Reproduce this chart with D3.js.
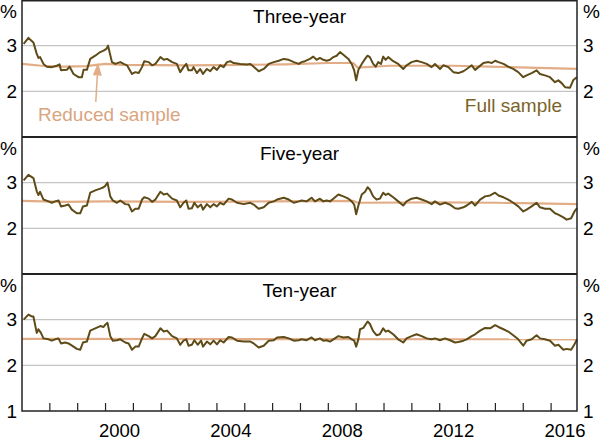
<!DOCTYPE html>
<html>
<head>
<meta charset="utf-8">
<script src="https://cdn.jsdelivr.net/npm/d3@7"></script>
<style>
  body { margin: 0; background: #fff; }
  text { font-family: Arial, "Liberation Sans", sans-serif; }
</style>
</head>
<body>
<script>
// panel titles
var titles = ["Three-year", "Five-year", "Ten-year"];

// [decimal year, per cent]
var threeFull = [[1997.06,3.04],[1997.23,3.17],[1997.41,3.07],[1997.53,2.82],[1997.59,2.73],[1997.65,2.75],[1997.77,2.60],[1997.89,2.54],[1998.07,2.53],[1998.25,2.56],[1998.35,2.59],[1998.40,2.46],[1998.61,2.47],[1998.71,2.54],[1998.85,2.38],[1999.03,2.31],[1999.15,2.31],[1999.21,2.47],[1999.33,2.47],[1999.45,2.71],[1999.63,2.78],[1999.81,2.86],[1999.93,2.89],[2000.03,2.93],[2000.09,3.00],[2000.23,2.64],[2000.35,2.60],[2000.53,2.64],[2000.65,2.60],[2000.77,2.57],[2000.95,2.38],[2001.07,2.42],[2001.19,2.40],[2001.31,2.53],[2001.39,2.66],[2001.55,2.64],[2001.67,2.57],[2001.79,2.60],[2001.97,2.75],[2002.09,2.69],[2002.21,2.71],[2002.39,2.64],[2002.56,2.60],[2002.68,2.42],[2002.80,2.53],[2002.90,2.60],[2002.98,2.46],[2003.10,2.46],[2003.16,2.53],[2003.28,2.40],[2003.40,2.49],[2003.50,2.38],[2003.64,2.49],[2003.76,2.44],[2003.88,2.53],[2004.00,2.47],[2004.12,2.57],[2004.24,2.53],[2004.36,2.64],[2004.48,2.66],[2004.60,2.62],[2004.84,2.60],[2005.08,2.59],[2005.20,2.60],[2005.32,2.54],[2005.50,2.44],[2005.68,2.49],[2005.86,2.60],[2006.04,2.64],[2006.22,2.67],[2006.40,2.71],[2006.58,2.69],[2006.76,2.64],[2006.94,2.60],
  [2007.04,2.64],[2007.16,2.66],[2007.34,2.71],[2007.46,2.76],[2007.58,2.69],[2007.70,2.73],[2007.82,2.69],[2007.94,2.67],[2008.06,2.69],[2008.18,2.75],[2008.30,2.78],[2008.42,2.86],[2008.54,2.80],[2008.72,2.71],[2008.84,2.60],[2008.93,2.46],[2009.00,2.24],[2009.08,2.47],[2009.20,2.60],[2009.32,2.71],[2009.41,2.78],[2009.49,2.75],[2009.61,2.60],[2009.70,2.54],[2009.79,2.64],[2009.89,2.60],[2009.97,2.76],[2010.06,2.69],[2010.15,2.75],[2010.33,2.66],[2010.51,2.60],[2010.69,2.49],[2010.81,2.57],[2010.99,2.64],[2011.17,2.67],[2011.35,2.64],[2011.53,2.60],[2011.71,2.53],[2011.83,2.60],[2012.01,2.49],[2012.13,2.57],[2012.31,2.53],[2012.49,2.42],[2012.67,2.40],[2012.85,2.44],[2012.97,2.49],[2013.15,2.57],[2013.27,2.47],[2013.39,2.53],[2013.57,2.62],[2013.75,2.64],[2013.87,2.62],[2013.99,2.67],[2014.11,2.64],[2014.29,2.60],[2014.46,2.54],[2014.64,2.49],[2014.82,2.42],[2015.00,2.31],[2015.12,2.35],[2015.30,2.40],[2015.48,2.46],[2015.60,2.38],[2015.78,2.35],[2015.96,2.31],[2016.14,2.20],[2016.26,2.24],[2016.38,2.18],[2016.50,2.09],[2016.68,2.08],[2016.80,2.25],[2016.92,2.31]];

var fiveFull = [[1997.06,3.05],[1997.23,3.17],[1997.41,3.10],[1997.53,2.81],[1997.59,2.73],[1997.65,2.80],[1997.77,2.63],[1997.95,2.59],[1998.07,2.56],[1998.19,2.59],[1998.31,2.61],[1998.40,2.48],[1998.55,2.50],[1998.67,2.52],[1998.79,2.41],[1998.97,2.33],[1999.09,2.33],[1999.19,2.48],[1999.33,2.50],[1999.45,2.78],[1999.63,2.83],[1999.81,2.87],[1999.93,2.90],[1999.99,2.93],[2000.07,3.00],[2000.17,2.70],[2000.26,2.61],[2000.41,2.56],[2000.53,2.61],[2000.71,2.53],[2000.83,2.52],[2000.95,2.37],[2001.07,2.43],[2001.19,2.43],[2001.31,2.63],[2001.39,2.68],[2001.55,2.65],[2001.67,2.58],[2001.79,2.63],[2001.97,2.80],[2002.09,2.74],[2002.21,2.76],[2002.39,2.65],[2002.56,2.61],[2002.68,2.46],[2002.80,2.56],[2002.90,2.61],[2002.98,2.43],[2003.10,2.44],[2003.19,2.56],[2003.31,2.46],[2003.43,2.52],[2003.50,2.41],[2003.64,2.53],[2003.76,2.46],[2003.88,2.53],[2004.00,2.48],[2004.12,2.56],[2004.24,2.52],[2004.42,2.65],[2004.54,2.63],[2004.72,2.56],[2004.96,2.53],[2005.20,2.56],[2005.32,2.52],[2005.50,2.43],[2005.68,2.46],[2005.86,2.56],[2006.04,2.59],[2006.16,2.63],[2006.40,2.67],[2006.58,2.63],[2006.76,2.56],[2006.94,2.59],
  [2007.04,2.61],[2007.22,2.59],[2007.40,2.67],[2007.52,2.59],[2007.70,2.65],[2007.82,2.59],[2007.94,2.61],[2008.06,2.59],[2008.18,2.65],[2008.36,2.74],[2008.54,2.70],[2008.72,2.65],[2008.84,2.59],[2008.93,2.52],[2009.00,2.31],[2009.08,2.50],[2009.20,2.74],[2009.32,2.80],[2009.41,2.90],[2009.49,2.85],[2009.61,2.70],[2009.73,2.63],[2009.85,2.65],[2009.97,2.78],[2010.06,2.73],[2010.15,2.76],[2010.33,2.68],[2010.51,2.59],[2010.69,2.50],[2010.81,2.59],[2010.99,2.65],[2011.17,2.67],[2011.35,2.63],[2011.53,2.59],[2011.71,2.53],[2011.83,2.59],[2012.01,2.52],[2012.19,2.56],[2012.37,2.52],[2012.55,2.44],[2012.67,2.43],[2012.85,2.46],[2012.97,2.50],[2013.15,2.58],[2013.27,2.50],[2013.45,2.63],[2013.63,2.70],[2013.81,2.72],[2013.99,2.78],[2014.11,2.72],[2014.29,2.68],[2014.46,2.63],[2014.64,2.56],[2014.82,2.48],[2015.00,2.37],[2015.12,2.41],[2015.30,2.48],[2015.48,2.56],[2015.60,2.46],[2015.78,2.43],[2015.96,2.43],[2016.14,2.33],[2016.26,2.30],[2016.44,2.24],[2016.56,2.19],[2016.72,2.22],[2016.84,2.37],[2016.93,2.44]];

var tenFull = [[1997.06,3.00],[1997.23,3.11],[1997.35,3.07],[1997.41,3.07],[1997.53,2.71],[1997.59,2.79],[1997.68,2.71],[1997.77,2.59],[1997.95,2.57],[1998.07,2.54],[1998.19,2.57],[1998.31,2.59],[1998.40,2.48],[1998.55,2.50],[1998.67,2.48],[1998.85,2.41],[1998.97,2.36],[1999.09,2.34],[1999.19,2.50],[1999.33,2.52],[1999.45,2.76],[1999.63,2.81],[1999.81,2.86],[1999.93,2.84],[1999.99,2.89],[2000.07,2.93],[2000.17,2.64],[2000.26,2.54],[2000.41,2.55],[2000.53,2.57],[2000.71,2.50],[2000.83,2.48],[2000.95,2.34],[2001.07,2.41],[2001.19,2.41],[2001.31,2.59],[2001.39,2.69],[2001.55,2.64],[2001.67,2.59],[2001.79,2.64],[2001.97,2.81],[2002.09,2.74],[2002.21,2.76],[2002.39,2.64],[2002.56,2.59],[2002.68,2.45],[2002.80,2.54],[2002.90,2.57],[2002.98,2.43],[2003.10,2.45],[2003.19,2.55],[2003.31,2.45],[2003.43,2.54],[2003.50,2.41],[2003.64,2.52],[2003.76,2.46],[2003.88,2.54],[2004.00,2.46],[2004.12,2.55],[2004.24,2.50],[2004.42,2.62],[2004.54,2.61],[2004.72,2.54],[2004.96,2.52],[2005.20,2.52],[2005.32,2.48],[2005.50,2.39],[2005.68,2.43],[2005.86,2.54],[2006.04,2.55],[2006.16,2.61],[2006.40,2.62],[2006.58,2.59],[2006.76,2.54],[2006.94,2.55],
  [2007.04,2.57],[2007.22,2.55],[2007.40,2.61],[2007.52,2.55],[2007.70,2.59],[2007.82,2.54],[2007.94,2.55],[2008.06,2.52],[2008.18,2.57],[2008.36,2.64],[2008.54,2.61],[2008.72,2.62],[2008.84,2.57],[2008.93,2.54],[2009.00,2.41],[2009.08,2.57],[2009.14,2.79],[2009.26,2.82],[2009.41,2.96],[2009.49,2.91],[2009.61,2.75],[2009.73,2.66],[2009.85,2.68],[2009.97,2.81],[2010.06,2.74],[2010.15,2.76],[2010.33,2.68],[2010.51,2.57],[2010.69,2.50],[2010.81,2.59],[2010.99,2.64],[2011.17,2.68],[2011.35,2.64],[2011.53,2.59],[2011.71,2.57],[2011.83,2.59],[2012.01,2.55],[2012.19,2.59],[2012.37,2.55],[2012.55,2.50],[2012.67,2.51],[2012.85,2.54],[2012.97,2.57],[2013.15,2.64],[2013.27,2.68],[2013.45,2.76],[2013.63,2.82],[2013.81,2.81],[2013.99,2.88],[2014.11,2.84],[2014.29,2.79],[2014.46,2.74],[2014.64,2.66],[2014.82,2.57],[2015.00,2.43],[2015.12,2.54],[2015.30,2.57],[2015.48,2.66],[2015.60,2.59],[2015.78,2.57],[2015.96,2.54],[2016.14,2.43],[2016.26,2.45],[2016.44,2.34],[2016.56,2.36],[2016.72,2.34],[2016.84,2.46],[2016.93,2.57]];

var threeReduced = [[1997.0,2.60],[1997.7,2.56],[1998.5,2.54],[1999.3,2.55],[2000.0,2.60],[2000.6,2.58],[2003.0,2.57],[2005.0,2.58],[2006.5,2.59],[2008.0,2.62],[2008.9,2.62],[2009.05,2.52],[2010.2,2.56],[2012.5,2.56],[2014.5,2.53],[2016.93,2.49]];
var fiveReduced = [[1997.0,2.60],[1998.5,2.58],[2000.0,2.59],[2003.0,2.58],[2006.0,2.59],[2008.9,2.60],[2009.05,2.56],[2012.0,2.57],[2014.0,2.56],[2016.93,2.53]];
var tenReduced = [[1997.0,2.58],[2016.93,2.57]];

var yTicks = [2, 3];
var yearTicks = d3.range(1998, 2017);
var yearLabels = [2000, 2004, 2008, 2012, 2016];

var fullCol = "#5e4b18";
var fullText = "#7b6428";
var redCol = "#e2ad86";
var redText = "#d9a57f";

//Width and height
var w = 600;
var h = 440;
var left = 22, right = 577;
var panelH = 137;

var svg = d3.select("body").append("svg").attr("width", w).attr("height", h);

var x = d3.scaleLinear().domain([1997, 2016.93]).range([left, right]);

var panels = [
  {title: titles[0], full: threeFull, reduced: threeReduced},
  {title: titles[1], full: fiveFull, reduced: fiveReduced},
  {title: titles[2], full: tenFull, reduced: tenReduced}
];

var ys = [];
panels.forEach(function(p, i) {
  var top = i * panelH;
  var y = d3.scaleLinear().domain([1, 4]).range([top + panelH, top]);
  ys.push(y);
  var g = svg.append("g");

  // grid
  g.selectAll("line.grid").data(yTicks).enter().append("line")
    .attr("x1", left).attr("x2", right)
    .attr("y1", function(d) { return y(d); }).attr("y2", function(d) { return y(d); })
    .attr("stroke", "#c4c4c4").attr("stroke-width", 1.3);

  // tick labels both sides
  var labs = yTicks.slice();
  if (i == 2) labs.push(1);
  [[left - 5, "end"], [right + 6, "start"]].forEach(function(s) {
    g.selectAll(null).data(labs).enter().append("text")
      .attr("x", s[0]).attr("y", function(d) { return y(d); })
      .attr("dy", "0.35em").attr("text-anchor", s[1])
      .attr("font-size", 19).text(function(d) { return d; });
    g.append("text").attr("x", s[0]).attr("y", top + 11).attr("dy", "0.35em")
      .attr("text-anchor", s[1]).attr("font-size", 19).text("%");
  });

  g.append("text").attr("x", (left + right) / 2).attr("y", top + 16).attr("dy", "0.35em")
    .attr("text-anchor", "middle").attr("font-size", 19).attr("fill", "#000").text(p.title);

  var line = d3.line().x(function(d) { return x(d[0]); }).y(function(d) { return y(d[1]); });

  g.append("path").datum(p.reduced).attr("d", line)
    .attr("fill", "none").attr("stroke", redCol).attr("stroke-width", 2.2);
  g.append("path").datum(p.full).attr("d", line)
    .attr("fill", "none").attr("stroke", fullCol).attr("stroke-width", 2)
    .attr("stroke-linejoin", "round");
});

// frame and separators
svg.append("rect").attr("x", left).attr("y", 0.75).attr("width", right - left)
  .attr("height", 3 * panelH - 0.75).attr("fill", "none")
  .attr("stroke", "#222").attr("stroke-width", 1.5);
[1, 2].forEach(function(i) {
  svg.append("line").attr("x1", left).attr("x2", right)
    .attr("y1", i * panelH).attr("y2", i * panelH)
    .attr("stroke", "#222").attr("stroke-width", 1.8);
});

// x ticks
var bottom = 3 * panelH;
svg.selectAll("line.xt").data(yearTicks).enter().append("line")
  .attr("x1", function(d) { return x(d); }).attr("x2", function(d) { return x(d); })
  .attr("y1", bottom).attr("y2", bottom - 8)
  .attr("stroke", "#222").attr("stroke-width", 1.2);
svg.selectAll("text.xl").data(yearLabels).enter().append("text")
  .attr("x", function(d) { return x(d + 0.5); }).attr("y", bottom + 20)
  .attr("dy", "0.35em").attr("text-anchor", "middle").attr("font-size", 18.5)
  .text(function(d) { return d; });

// labels, first panel
var y0 = ys[0];
svg.append("text").attr("x", 38).attr("y", 114).attr("dy", "0.35em")
  .attr("font-size", 19).attr("fill", redText).text("Reduced sample");
svg.append("text").attr("x", 562).attr("y", 105).attr("dy", "0.35em")
  .attr("text-anchor", "end").attr("font-size", 19).attr("fill", fullText).text("Full sample");

// arrow
var tail = [x(1999.65), y0(1.77)], tip = [x(1999.73), y0(2.63)];
var ang = Math.atan2(tip[1] - tail[1], tip[0] - tail[0]);
var hl = 13, hw = 4.5;
var base = [tip[0] - hl * Math.cos(ang), tip[1] - hl * Math.sin(ang)];
svg.append("line").attr("x1", tail[0]).attr("y1", tail[1]).attr("x2", base[0]).attr("y2", base[1])
  .attr("stroke", redCol).attr("stroke-width", 1.5);
svg.append("path")
  .attr("d", "M" + tip[0] + "," + tip[1] +
    "L" + (base[0] + hw * Math.sin(ang)) + "," + (base[1] - hw * Math.cos(ang)) +
    "L" + (base[0] - hw * Math.sin(ang)) + "," + (base[1] + hw * Math.cos(ang)) + "Z")
  .attr("fill", redCol);
</script>
</body>
</html>
